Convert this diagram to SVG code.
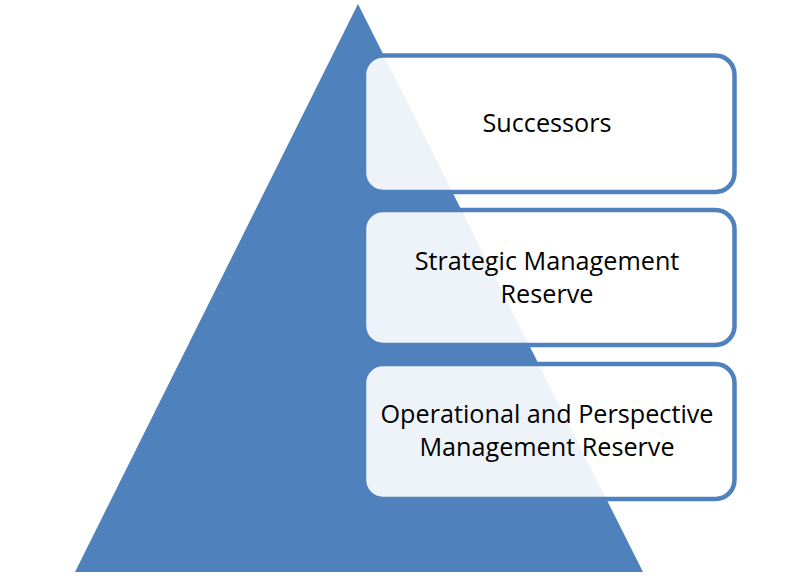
<svg xmlns="http://www.w3.org/2000/svg" width="796" height="588" viewBox="0 0 796 588">
<style>
.box{fill:#ffffff;fill-opacity:0.9;stroke:#4f81bd;stroke-width:4.5}
.t{font-family:"Open Sans","Noto Sans",sans-serif;font-size:25.2px;fill:#000;text-anchor:middle}
</style>
<rect width="796" height="588" fill="#ffffff"/>
<g id="pyramid">
<polygon points="358,4 643,572 75,572" fill="#4f81bd"/>
</g>
<g id="connectors"></g>
<g id="node-successors">
<rect class="box" x="364" y="55.5" width="370.5" height="136.5" rx="19"/>
<text class="t" x="547" y="132">Successors</text>
</g>
<g id="node-strategic">
<rect class="box" x="364" y="210" width="370.5" height="135" rx="19"/>
<text class="t" x="547" y="269.5">Strategic Management</text>
<text class="t" x="547" y="303">Reserve</text>
</g>
<g id="node-operational">
<rect class="box" x="364" y="364" width="370.5" height="135" rx="19"/>
<text class="t" x="547" y="422.5">Operational and Perspective</text>
<text class="t" x="547" y="456">Management Reserve</text>
</g>
</svg>
